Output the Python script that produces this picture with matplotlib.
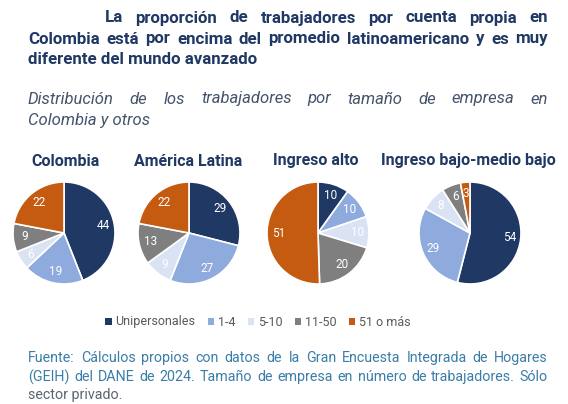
import matplotlib
matplotlib.use("Agg")
import matplotlib.pyplot as plt
from matplotlib.patches import Patch

# ─── DATA ───────────────────────────────────────────────────────────────────
regions = ["Colombia", "América Latina", "Ingreso alto", "Ingreso bajo-medio bajo"]
categories = ["Unipersonales", "1-4", "5-10", "11-50", "51 o más"]
colombia = [44, 19, 6, 9, 22]
america_latina = [29, 27, 9, 13, 22]
ingreso_alto = [10, 10, 10, 20, 51]
ingreso_bajo = [54, 29, 8, 6, 3]
series = [colombia, america_latina, ingreso_alto, ingreso_bajo]

colors = ["#1F3864", "#8FAADC", "#DAE3F3", "#7F7F7F", "#C55A11"]

title_lines = [
    "La proporción de trabajadores por cuenta propia en",
    "Colombia está por encima del promedio latinoamericano y es muy",
    "diferente del mundo avanzado",
]
subtitle_lines = [
    "Distribución de los trabajadores por tamaño de empresa en",
    "Colombia y otros",
]
source_lines = [
    "Fuente: Cálculos propios con datos de la Gran Encuesta Integrada de Hogares",
    "(GEIH) del DANE de 2024. Tamaño de empresa en número de trabajadores. Sólo",
    "sector privado.",
]

W, H = 568, 404
NAVY = "#203864"

fig = plt.figure(figsize=(W / 100, H / 100), dpi=100)
renderer = fig.canvas.get_renderer()


def px(x, y):
    return x / W, 1 - y / H


def justify(line, y, x0, x1, **kw):
    """Spread words of a line between x0 and x1 (pixels)."""
    words = line.split()
    texts = [fig.text(0, 0, w, va="center", **kw) for w in words]
    widths = [t.get_window_extent(renderer).width for t in texts]
    gap = (x1 - x0 - sum(widths)) / max(len(words) - 1, 1)
    x = x0
    for t, w in zip(texts, widths):
        t.set_position(px(x, y))
        x += w + gap


title_kw = dict(fontsize=12.2, fontweight="bold", color=NAVY, family="Roboto")
# first line is indented (right-aligned, justified)
justify(title_lines[0], 18, 105, 548, **title_kw)
justify(title_lines[1], 39, 28, 548, **title_kw)
fig.text(*px(28, 59), title_lines[2], va="center", **title_kw)

sub_kw = dict(fontsize=12, style="italic", color="#44546A", family="Roboto")
justify(subtitle_lines[0], 99, 28, 548, **sub_kw)
fig.text(*px(28, 121), subtitle_lines[1], va="center", **sub_kw)

# ─── PIES ───────────────────────────────────────────────────────────────────
centers = [64, 189, 318, 470]
cy, r = 233, 51
title_x = [65, 188, 316, 468]

for name, vals, cx, tx in zip(regions, series, centers, title_x):
    ax = fig.add_axes([(cx - r) / W, (H - cy - r) / H, 2 * r / W, 2 * r / H])
    ax.pie(vals, colors=colors, startangle=90, counterclock=False,
           labels=[str(v) for v in vals], labeldistance=0.78,
           wedgeprops=dict(edgecolor="white", linewidth=1.2),
           textprops=dict(color="white", fontsize=8.5, family="Roboto",
                          ha="center", va="center"))
    ax.set_xlim(-1, 1)
    ax.set_ylim(-1, 1)
    ax.set_aspect("equal")
    fig.text(*px(tx, 161), name, ha="center", va="center", fontsize=11.5,
             fontweight="bold", color=NAVY, family="Roboto")

# ─── LEGEND ─────────────────────────────────────────────────────────────────
handles = [Patch(facecolor=c, edgecolor="none", label=l) for c, l in zip(colors, categories)]
fig.legend(handles=handles, loc="center", bbox_to_anchor=px(258, 322), ncol=5,
           frameon=False, handlelength=0.5, handleheight=0.5, handletextpad=0.3,
           columnspacing=1.0, prop=dict(family="Roboto", size=9), labelcolor="#595959")

# ─── SOURCE ─────────────────────────────────────────────────────────────────
src_kw = dict(fontsize=10.3, color="#3A7DA8", family="Roboto")
justify(source_lines[0], 358, 28, 548, **src_kw)
justify(source_lines[1], 377, 28, 548, **src_kw)
fig.text(*px(28, 395), source_lines[2], va="center",
         **{**src_kw, "color": "#5A6570"})

fig.savefig("out.png", dpi=100)
